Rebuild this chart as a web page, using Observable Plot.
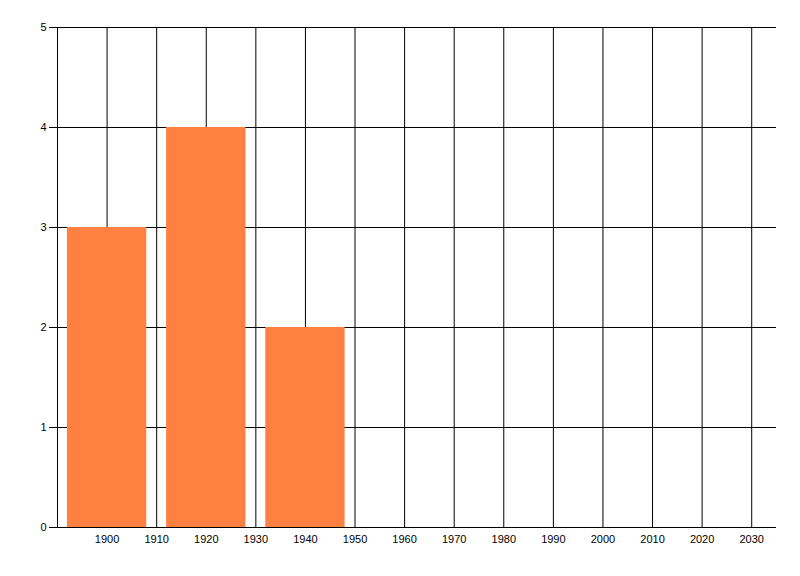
<!DOCTYPE html>
<html>
<head>
<meta charset="utf-8">
<script src="https://cdn.jsdelivr.net/npm/d3@7"></script>
<script src="https://cdn.jsdelivr.net/npm/@observablehq/plot@0.6"></script>
<style>
  html, body { margin: 0; padding: 0; background: #fff; }
</style>
</head>
<body>
<div id="chart"></div>
<script>
const years = [1900, 1920, 1940];
const counts = [3, 4, 2];
const barHalfWidth = 8;
const xTicks = [1900, 1910, 1920, 1930, 1940, 1950, 1960, 1970, 1980, 1990, 2000, 2010, 2020, 2030];
const yTicks = [0, 1, 2, 3, 4, 5];

const data = years.map((y, i) => ({year: y, count: counts[i]}));

const chart = Plot.plot({
  width: 800,
  height: 576,
  marginLeft: 57,
  marginRight: 24,
  marginTop: 27,
  marginBottom: 49,
  style: {fontFamily: "'Liberation Sans', Arial, sans-serif", fontSize: "11px", background: "#fff", color: "#000"},
  x: {domain: [1890, 2035]},
  y: {domain: [0, 5]},
  marks: [
    Plot.gridX(xTicks, {stroke: "#000", strokeOpacity: 1, strokeWidth: 1}),
    Plot.gridY(yTicks, {stroke: "#000", strokeOpacity: 1, strokeWidth: 1}),
    Plot.rectY(data, {x1: d => d.year - barHalfWidth, x2: d => d.year + barHalfWidth, y: "count", fill: "#FF8040"}),
    Plot.ruleX([1890], {stroke: "#000"}),
    Plot.ruleY([0], {stroke: "#000"}),
    Plot.axisY(yTicks, {tickSize: 8, tickPadding: 3, fontSize: 11, label: null, tickFormat: d => String(d)}),
    Plot.axisX(xTicks, {tickSize: 0, tickPadding: 8, fontSize: 11, label: null, tickFormat: d => String(d)})
  ]
});
document.getElementById("chart").appendChild(chart);
</script>
</body>
</html>
